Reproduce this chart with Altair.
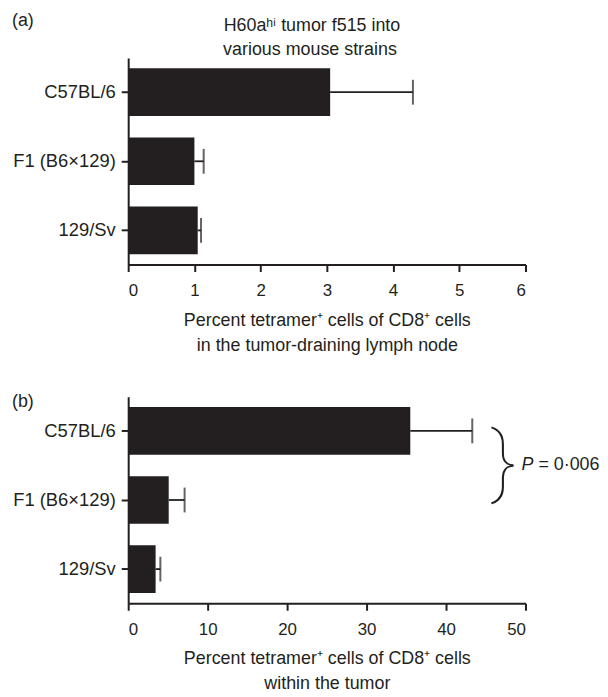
import altair as alt
import pandas as pd

# ---------------- data ----------------
strains = ["C57BL/6", "F1 (B6×129)", "129/Sv"]
lymph_mean = [3.05, 1.00, 1.05]
lymph_err = [1.25, 0.14, 0.05]
tumor_mean = [35.5, 5.1, 3.45]
tumor_err = [7.8, 2.0, 0.6]
lymph_ticks = [0, 1, 2, 3, 4, 5, 6]
tumor_ticks = [0, 10, 20, 30, 40, 50]

panel_letters = ["(a)", "(b)"]
top_title = ["H60aʰⁱ tumor f515 into", "various mouse strains"]
lymph_xtitle = ["Percent tetramer⁺ cells of CD8⁺ cells", "in the tumor-draining lymph node"]
tumor_xtitle = ["Percent tetramer⁺ cells of CD8⁺ cells", "within the tumor"]
p_label = ["P", "= 0·006"]
brace = ["}"]

FONT = "Liberation Sans"
INK = "#231f20"
W, H = 400, 208


def text_layer(txt, x, y, size=18, align="left", style="normal", font=FONT, weight="normal"):
    return alt.Chart(pd.DataFrame({"t": [txt]})).mark_text(
        font=font, fontSize=size, align=align, baseline="middle", color=INK,
        fontStyle=style, fontWeight=weight
    ).encode(x=alt.value(x), y=alt.value(y), text="t:N")


def panel(means, errs, xmax, ticks, xtitle, extra):
    df = pd.DataFrame({
        "strain": strains,
        "mean": means,
        "hi": [m + e for m, e in zip(means, errs)],
    })
    yenc = alt.Y(
        "strain:N", sort=strains, title=None,
        scale=alt.Scale(paddingInner=0.31, paddingOuter=0.15),
        axis=alt.Axis(labelFont=FONT, labelFontSize=18.5, labelColor=INK, labelPadding=6,
                      tickSize=7, tickWidth=2, tickColor=INK, domainColor=INK,
                      domainWidth=2, labelLimit=0),
    )
    xenc = alt.X(
        "mean:Q",
        scale=alt.Scale(domain=[0, xmax], nice=False, zero=True),
        axis=alt.Axis(values=ticks, title=xtitle, grid=False, format="d",
                      labelFont=FONT, labelFontSize=17, labelColor=INK, labelPadding=11,
                      tickSize=7, tickWidth=2, tickColor=INK, domainColor=INK,
                      domainWidth=2, titleFont=FONT, titleFontSize=18,
                      titleFontWeight="normal", titleColor=INK, titleLineHeight=25,
                      titlePadding=13),
    )
    base = alt.Chart(df)
    bars = base.mark_bar(color=INK).encode(x=xenc, y=yenc)
    err = base.mark_rule(color=INK, strokeWidth=1.8).encode(
        x="mean:Q", x2="hi:Q", y=alt.Y("strain:N", sort=strains))
    cap = base.mark_tick(color=INK, thickness=2, size=25, orient="vertical").encode(
        x="hi:Q", y=alt.Y("strain:N", sort=strains))
    return alt.layer(bars, err, cap, *extra).properties(width=W, height=H)


panel_a = panel(
    lymph_mean, lymph_err, 6, lymph_ticks, lymph_xtitle,
    [
        text_layer(panel_letters[0], -117, -37),
        text_layer(top_title[0], 185, -32, align="center"),
        text_layer(top_title[1], 183, -8, align="center"),
    ],
)

panel_b = panel(
    tumor_mean, tumor_err, 50, tumor_ticks, tumor_xtitle,
    [
        text_layer(panel_letters[1], -117, 5),
        text_layer(brace[0], 378, 67, size=79, align="center", font="Roboto", weight=100),
        text_layer(p_label[0], 396, 69, style="italic"),
        text_layer(p_label[1], 413, 69),
    ],
)

chart = alt.vconcat(panel_a, panel_b, spacing=39).configure_view(stroke=None).properties(
    padding={"left": 4, "top": 2, "right": 0, "bottom": 0}
)

chart.save("out.html", embed_options={"renderer": "svg", "actions": False})
